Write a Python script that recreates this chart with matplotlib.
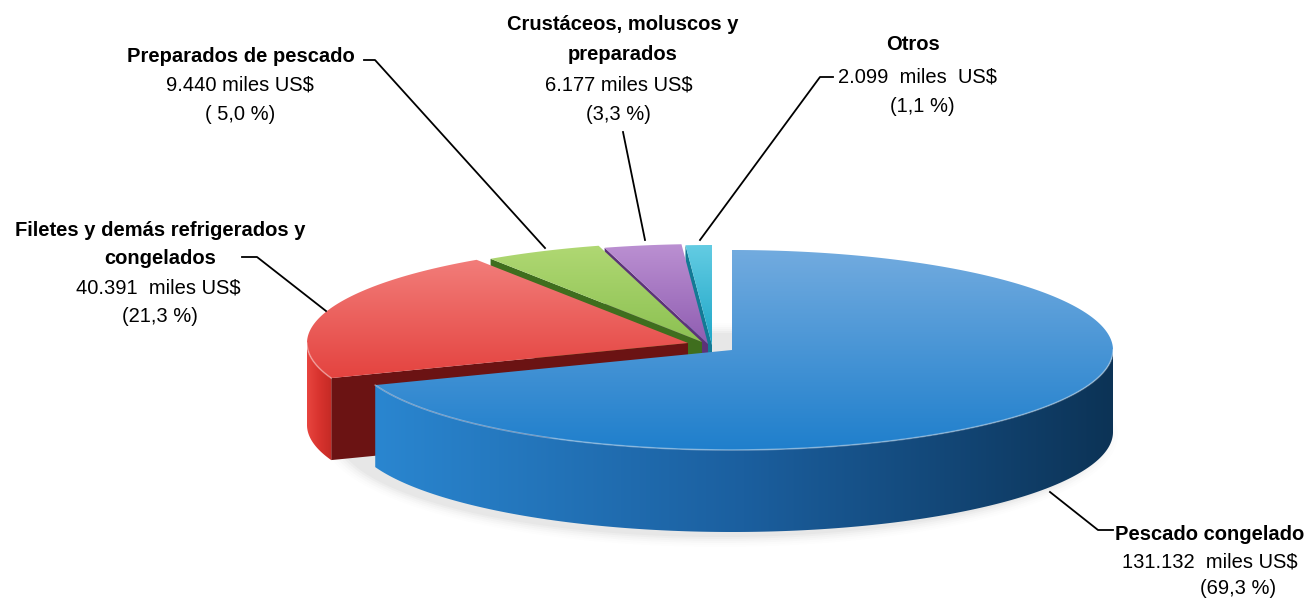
import numpy as np
import matplotlib.pyplot as plt
from matplotlib.patches import Polygon
from matplotlib.colors import LinearSegmentedColormap

plt.rcParams['font.family'] = ['Liberation Sans', 'DejaVu Sans']

# exportaciones por producto
categorias = ['Pescado congelado', 'Filetes y demás refrigerados y\ncongelados',
              'Preparados de pescado', 'Crustáceos, moluscos y\npreparados', 'Otros']
valores = [131132, 40391, 9440, 6177, 2099]
montos = ['131.132  miles US$', '40.391  miles US$', '9.440 miles US$',
          '6.177 miles US$', '2.099  miles  US$']
porcentajes = ['(69,3 %)', '(21,3 %)', '( 5,0 %)', '(3,3 %)', '(1,1 %)']

# geometria del pastel (pixeles)
RX, RY, H = 381, 100, 82
centros = [(732, 350), (688, 343), (702, 342), (708, 344), (712, 345)]

# colores: tapa (arriba, abajo), pared (izq, centro, der), corte
tapas = [('#72abdf', '#1f7fcc'), ('#f27d7a', '#e4433f'), ('#b0d873', '#8cc152'),
         ('#bb90d2', '#8f5db1'), ('#63cce3', '#1ea6c7')]
paredes = [('#2a86d0', '#1b5f9f', '#0c3356'), ('#e8453f', '#d8332e', '#c42a25'),
           ('#7aa844', '#6a9838', '#5a8a30'), ('#7d4c9e', '#6d3f8c', '#5f3479'),
           ('#1c9dbd', '#178aa8', '#127590')]
cortes = ['#1a4f80', '#6b1313', '#3f6e1e', '#5c3378', '#137a95']

fig = plt.figure(figsize=(13.05, 6.0), dpi=100)
ax = fig.add_axes([0, 0, 1, 1])
ax.axis('off')

z = [1]


def relleno(verts, colores, vertical=True):
    verts = np.asarray(verts)
    poly = Polygon(verts, closed=True, facecolor='none', edgecolor='none', zorder=z[0])
    ax.add_patch(poly)
    cmap = LinearSegmentedColormap.from_list('g', colores)
    g = np.linspace(0, 1, 256)
    img = g[:, None] if vertical else g[None, :]
    xs, ys = verts[:, 0], verts[:, 1]
    im = ax.imshow(img, cmap=cmap, extent=(xs.min(), xs.max(), ys.max(), ys.min()),
                   origin='upper', aspect='auto', interpolation='bilinear', zorder=z[0])
    im.set_clip_path(poly)
    z[0] += 1


def punto(c, t, dz=0):
    return (c[0] + RX * np.cos(np.radians(t)), c[1] - RY * np.sin(np.radians(t)) + dz)


frac = np.array(valores) / sum(valores)
fin = 90 - 360 * np.cumsum(frac)
ini = fin + 360 * frac

# sombra suave bajo la base
for k, a in enumerate(np.linspace(0.035, 0.008, 6)):
    t = np.linspace(0, 360, 200)
    ex = 720 + (RX + 2 + 3 * k) * np.cos(np.radians(t))
    ey = 350 + H + 3 - (RY + 2 + 2 * k) * np.sin(np.radians(t))
    ax.fill(ex, ey, color='#555555', alpha=a, lw=0, zorder=0)

# de atras hacia adelante
for i in [4, 3, 2, 1, 0]:
    c = centros[i]
    a, b = fin[i], ini[i]
    # caras de corte visibles
    for ang, normal in [(a, a - 90), (b, b + 90)]:
        if np.sin(np.radians(normal)) < -0.02:
            p = punto(c, ang)
            verts = [c, p, (p[0], p[1] + H), (c[0], c[1] + H)]
            ax.add_patch(Polygon(verts, closed=True, facecolor=cortes[i],
                                 edgecolor='none', zorder=z[0]))
            z[0] += 1
    # pared exterior (mitad frontal)
    t = np.linspace(a, b, 400)
    vis = np.sin(np.radians(t)) < 0
    if vis.any():
        tv = t[vis]
        arriba = [punto(c, u) for u in tv]
        abajo = [punto(c, u, H) for u in tv[::-1]]
        relleno(arriba + abajo, paredes[i], vertical=False)
    # tapa
    arco = [punto(c, u) for u in t]
    relleno([c] + arco, tapas[i])
    if vis.any():
        borde = np.array([punto(c, u) for u in t[vis]])
        ax.plot(borde[:, 0], borde[:, 1], color='white', alpha=0.35, lw=1.2, zorder=z[0])
        z[0] += 1

# etiquetas
FS = 14.5
pos_cat = [(1210, 535), (160, 230), (241, 57), (623, 25), (913, 45)]
pos_val = [(1210, 562), (158, 288), (240, 85), (619, 85), (918, 77)]
pos_pct = [(1238, 588), (160, 316), (240, 115), (618, 115), (922, 107)]
for i in range(5):
    x, y = pos_cat[i]
    for k, linea in enumerate(categorias[i].split('\n')):
        ax.text(x, y + 29 * k, linea, ha='center', va='center', fontsize=FS,
                fontweight='bold', zorder=50)
    vx, vy = pos_val[i]
    ax.text(vx, vy, montos[i], ha='center', va='center', fontsize=FS, zorder=50)
    px, py = pos_pct[i]
    ax.text(px, py, porcentajes[i], ha='center', va='center', fontsize=FS, zorder=50)

guias = [[(1050, 492), (1098, 530), (1113, 530)],
         [(242, 257), (257, 257), (326, 311)],
         [(364, 60), (375, 60), (545, 248)],
         [(623, 132), (645, 240)],
         [(833, 77), (820, 77), (700, 240)]]
for g in guias:
    g = np.array(g)
    ax.plot(g[:, 0], g[:, 1], color='black', lw=1.3, zorder=49)

ax.set_xlim(0, 1305)
ax.set_ylim(600, 0)
fig.savefig('out.png', dpi=100)
